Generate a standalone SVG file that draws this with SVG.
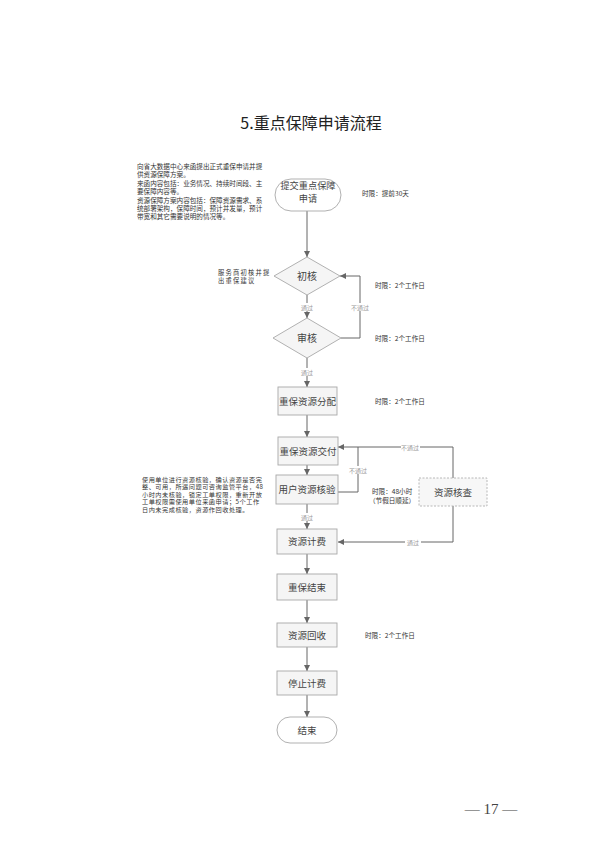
<svg xmlns="http://www.w3.org/2000/svg" width="614" height="860" viewBox="0 0 614 860">
<defs>
<marker id="arr" viewBox="0 0 10 10" refX="10" refY="5" markerWidth="6" markerHeight="6" orient="auto" markerUnits="userSpaceOnUse">
<path d="M0,0 L10,5 L0,10 Z" fill="#666"/>
</marker>
<style>
.t{font-family:"Noto Sans CJK SC","Noto Sans",sans-serif;fill:#333}
.title{font-size:16px;text-anchor:middle;fill:#222}
.node{font-size:9.5px;text-anchor:middle;fill:#444}
.dn{font-size:10px;text-anchor:middle;fill:#444}
.note{font-size:6.6px;fill:#333}
.lbl{font-size:6px;text-anchor:middle;fill:#999}
.box{fill:#f5f5f5;stroke:#a8a8a8;stroke-width:0.9}
.dash{fill:#f7f7f7;stroke:#b0b0b0;stroke-width:0.9;stroke-dasharray:2 1.5}
.ln{fill:none;stroke:#666;stroke-width:1}
.bg{fill:#fff}
</style>
</defs>
<rect width="614" height="860" fill="#fff"/>
<text class="t title" x="311" y="129">5.重点保障申请流程</text>

<g id="note1" class="t note">
<text x="137" y="169">向省大数据中心来函提出正式重保申请并提</text>
<text x="137" y="177.4">供资源保障方案。</text>
<text x="137" y="185.8">来函内容包括：业务情况、持续时间段、主</text>
<text x="137" y="194.2">要保障内容等。</text>
<text x="137" y="202.6">资源保障方案内容包括：保障资源需求、系</text>
<text x="137" y="211">统部署架构，保障时间，预计并发量，预计</text>
<text x="137" y="219.4">带宽和其它需要说明的情况等。</text>
</g>
<g id="note2" class="t note" style="font-size:6.3px;letter-spacing:1.2px">
<text x="218" y="274.5">服务商初核并提</text>
<text x="218" y="282.5">出重保建议</text>
</g>
<g id="note3" class="t note" style="font-size:6.2px;letter-spacing:0.5px">
<text x="142" y="481.5">使用单位进行资源核验，确认资源是否完</text>
<text x="142" y="489">整、可用，所遇问题可咨询监管平台，48</text>
<text x="142" y="496.5">小时内未核验，锁定工单权限，重新开放</text>
<text x="142" y="504">工单权限需使用单位来函申请；5个工作</text>
<text x="142" y="511.5">日内未完成核验，资源作回收处理。</text>
</g>
<g id="limits" class="t note">
<text x="362" y="196">时限：提前30天</text>
<text x="375" y="288">时限：2个工作日</text>
<text x="375" y="341">时限：2个工作日</text>
<text x="375" y="404">时限：2个工作日</text>
<text x="372" y="494">时限：48小时</text>
<text x="369" y="503">（节假日顺延）</text>
<text x="365" y="638">时限：2个工作日</text>
</g>

<g id="connectors">
<path class="ln" d="M307,211 V257" marker-end="url(#arr)"/>
<path class="ln" d="M307,295 V318" marker-end="url(#arr)"/>
<path class="ln" d="M341,338 H360 V276 H340" marker-end="url(#arr)"/>
<path class="ln" d="M307,358 V387" marker-end="url(#arr)"/>
<path class="ln" d="M307,415 V437" marker-end="url(#arr)"/>
<path class="ln" d="M307,465 V475" marker-end="url(#arr)"/>
<path class="ln" d="M338,492 H358 V447"/>
<path class="ln" d="M453,478 V447 H338" marker-end="url(#arr)"/>
<path class="ln" d="M307,504 V529" marker-end="url(#arr)"/>
<path class="ln" d="M453,506 V542 H338" marker-end="url(#arr)"/>
<path class="ln" d="M307,554 V574" marker-end="url(#arr)"/>
<path class="ln" d="M307,600 V623" marker-end="url(#arr)"/>
<path class="ln" d="M307,647 V671" marker-end="url(#arr)"/>
<path class="ln" d="M307,695 V717" marker-end="url(#arr)"/>
<rect class="bg" x="299" y="303" width="16" height="8"/>
<text class="t lbl" x="307" y="309.5">通过</text>
<rect class="bg" x="351" y="303" width="18" height="8"/>
<text class="t lbl" x="360" y="309.5">不通过</text>
<rect class="bg" x="299" y="368" width="16" height="8"/>
<text class="t lbl" x="307" y="374.5">通过</text>
<rect class="bg" x="401" y="443" width="19" height="8"/>
<text class="t lbl" x="410" y="449.5">不通过</text>
<rect class="bg" x="349" y="466" width="18" height="8"/>
<text class="t lbl" x="358" y="472.5">不通过</text>
<rect class="bg" x="299" y="513" width="16" height="8"/>
<text class="t lbl" x="307" y="519.5">通过</text>
<rect class="bg" x="405" y="538" width="16" height="8"/>
<text class="t lbl" x="413" y="544.5">通过</text>
</g>

<g id="start">
<rect class="box" x="275" y="179" width="66" height="32" rx="16" style="fill:#fff"/>
<text class="t node" x="308" y="189" style="font-size:9.2px">提交重点保障</text>
<text class="t node" x="308" y="202.4" style="font-size:9.2px">申请</text>
</g>
<g id="chuhe">
<polygon class="box" points="307,257 340,276 307,295 274,276"/>
<text class="t dn" x="307" y="279.5">初核</text>
</g>
<g id="shenhe">
<polygon class="box" points="307,318 341,338 307,358 273,338"/>
<text class="t dn" x="307" y="341.5">审核</text>
</g>
<g id="fenpei">
<rect class="box" x="278" y="387" width="59" height="28"/>
<text class="t node" x="307.5" y="404.5">重保资源分配</text>
</g>
<g id="jiaofu">
<rect class="box" x="278" y="437" width="60" height="28"/>
<text class="t node" x="308" y="454.5">重保资源交付</text>
</g>
<g id="hejian">
<rect class="box" x="276" y="475" width="62" height="29"/>
<text class="t node" x="307" y="493">用户资源核验</text>
</g>
<g id="hecha">
<rect class="dash" x="419" y="478" width="68" height="28"/>
<text class="t node" x="453" y="495.5">资源核查</text>
</g>
<g id="jifei">
<rect class="box" x="277" y="529" width="60" height="25"/>
<text class="t node" x="307" y="545">资源计费</text>
</g>
<g id="jieshu1">
<rect class="box" x="277" y="574" width="60" height="26"/>
<text class="t node" x="307" y="590.5">重保结束</text>
</g>
<g id="huishou">
<rect class="box" x="277" y="623" width="60" height="24"/>
<text class="t node" x="307" y="638.5">资源回收</text>
</g>
<g id="tingzhi">
<rect class="box" x="277" y="671" width="60" height="24"/>
<text class="t node" x="307" y="686.5">停止计费</text>
</g>
<g id="end">
<rect class="box" x="277" y="717" width="60" height="26" rx="13" style="fill:#fff"/>
<text class="t node" x="307" y="733.5">结束</text>
</g>

<text x="491" y="814" style="font-family:'Liberation Serif',serif;font-size:15px;fill:#444;text-anchor:middle">— 17 —</text>
</svg>
